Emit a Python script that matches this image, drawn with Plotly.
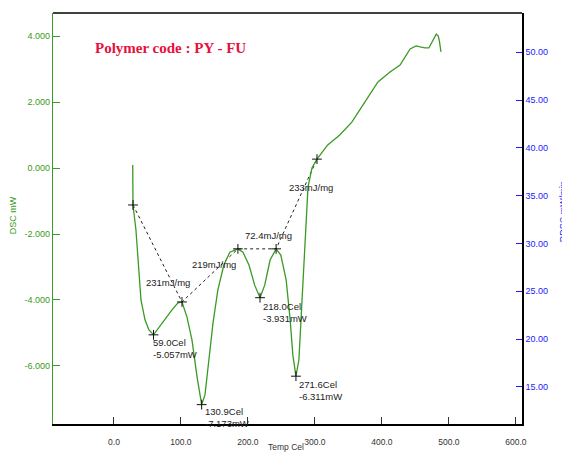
import plotly.graph_objects as go

# DSC curve: temperature (Cel) and heat flow (mW)
temp = [28.0, 28.2, 28.4, 32.8, 35.8, 40.3, 46.3, 52.0, 59.0, 71.6, 86.6, 95.5, 101.5,
        109.0, 116.4, 124.0, 130.9, 135.8, 141.8, 147.8, 155.0, 164.0, 173.0, 185.0,
        192.5, 201.5, 210.0, 218.0, 225.0, 233.0, 242.0, 249.0, 257.0, 263.0, 267.0,
        271.6, 276.0, 280.6, 285.0, 289.6, 295.5, 303.0, 319.0, 337.0, 355.0, 368.0,
        382.0, 394.0, 412.0, 427.0, 442.0, 451.0, 457.0, 464.0, 470.0, 475.0, 481.0,
        484.0, 485.5, 488.0]
dsc = [0.09, -0.90, -1.12, -1.88, -2.70, -4.00, -4.60, -4.90, -5.057, -4.70, -4.30, -4.09, -4.06,
       -4.52, -5.21, -6.33, -7.173, -6.88, -5.82, -4.70, -3.70, -2.94, -2.55, -2.45,
       -2.55, -2.94, -3.55, -3.931, -3.55, -2.79, -2.45, -2.64, -3.39, -4.61, -5.67,
       -6.311, -5.82, -4.00, -2.18, -0.58, 0.00, 0.27, 0.70, 1.00, 1.39, 1.80,
       2.27, 2.61, 2.91, 3.12, 3.61, 3.70, 3.67, 3.64, 3.64, 3.82, 4.06,
       4.00, 3.88, 3.52]

# Integration baselines (endpoints) and enthalpy labels
base_t = [28.4, 101.5, 185.0, 242.0, 303.0]
base_y = [-1.12, -4.06, -2.45, -2.45, 0.27]
enth_labels = ["231mJ/mg", "219mJ/mg", "72.4mJ/mg", "233mJ/mg"]
enth_t = [80.6, 149.0, 230.0, 294.0]
enth_y = [-3.48, -2.91, -2.06, -0.58]

# Peak minima
peak_t = [59.0, 130.9, 218.0, 271.6]
peak_y = [-5.057, -7.173, -3.931, -6.311]
peak_lab_t = [55.0, 133.0, 219.5, 273.0]
peak_lab_y = [-5.06, -7.15, -3.97, -6.33]

x_ticks = [0, 100, 200, 300, 400, 500, 600]
x_tick_text = ["0.0", "100.0", "200.0", "300.0", "400.0", "500.0", "600.0"]
y_ticks = [-6, -4, -2, 0, 2, 4]
y_tick_text = ["-6.000", "-4.000", "-2.000", "0.000", "2.000", "4.000"]
y2_ticks = [15, 20, 25, 30, 35, 40, 45, 50]
y2_tick_text = ["15.00", "20.00", "25.00", "30.00", "35.00", "40.00", "45.00", "50.00"]

GREEN = "#3a9a22"
BLUE = "#1a1aff"
FONT = "Liberation Sans"

fig = go.Figure()

fig.add_trace(go.Scatter(x=base_t, y=base_y, mode="lines",
                         line=dict(color="#222222", width=1, dash="dot"),
                         showlegend=False, hoverinfo="skip"))
fig.add_trace(go.Scatter(x=temp, y=dsc, mode="lines",
                         line=dict(color=GREEN, width=1.3),
                         showlegend=False))
fig.add_trace(go.Scatter(x=base_t + peak_t, y=base_y + peak_y, mode="markers",
                         marker=dict(symbol="cross-thin", size=7,
                                     line=dict(color="#111111", width=1)),
                         showlegend=False, hoverinfo="skip"))
fig.add_trace(go.Scatter(x=[None], y=[None], yaxis="y2", showlegend=False))

for lab, t, y in zip(enth_labels, enth_t, enth_y):
    fig.add_annotation(x=t, y=y, text=lab, showarrow=False, xref="x", yref="y",
                       font=dict(family=FONT, size=9.5, color="#222222"))

for t, y, lt, ly in zip(peak_t, peak_y, peak_lab_t, peak_lab_y):
    fig.add_annotation(x=lt, y=ly, text=f"{t:.1f}Cel<br>{y:.3f}mW", showarrow=False,
                       xref="x", yref="y", xanchor="left", yanchor="top", align="left",
                       font=dict(family=FONT, size=9.5, color="#222222"))

fig.add_annotation(x=0.085, y=0.915, xref="paper", yref="paper",
                   text="<b>Polymer code : PY - FU</b>", showarrow=False,
                   xanchor="left", yanchor="middle",
                   font=dict(family="Liberation Serif", size=15, color="#e8103c"))

# axis titles
fig.add_annotation(x=-0.085, y=0.508, xref="paper", yref="paper", text="DSC mW",
                   showarrow=False, textangle=-90, xanchor="center", yanchor="middle",
                   font=dict(family=FONT, size=9, color=GREEN))
fig.add_annotation(x=1.088, y=0.516, xref="paper", yref="paper", text="DDSC mW/min",
                   showarrow=False, textangle=-90, xanchor="center", yanchor="middle",
                   font=dict(family=FONT, size=9, color=BLUE))
fig.add_annotation(x=0.497, y=-0.057, xref="paper", yref="paper", text="Temp Cel",
                   showarrow=False, xanchor="center", yanchor="middle",
                   font=dict(family=FONT, size=8.5, color="#333333"))

# the page body adds an 8px offset, so the figure is 8px smaller than the window
fig.update_layout(
    width=562, height=444,
    margin=dict(l=45, r=48, t=5, b=28),
    plot_bgcolor="white", paper_bgcolor="white",
    font=dict(family=FONT, size=9),
    xaxis=dict(range=[-91, 609], tickvals=x_ticks, ticktext=x_tick_text,
               ticks="inside", ticklen=7, tickcolor="#333333", automargin=False,
               showgrid=False, zeroline=False, showline=True, linecolor="black",
               linewidth=1.5, mirror=False, ticklabelstandoff=9,
               tickfont=dict(family=FONT, size=8.5, color="#333333")),
    yaxis=dict(range=[-7.76, 4.7], tickvals=y_ticks, ticktext=y_tick_text,
               ticks="inside", ticklen=7, tickcolor=GREEN, automargin=False,
               showgrid=False, zeroline=False, showline=True, linecolor=GREEN,
               linewidth=1.2,
               tickfont=dict(family=FONT, size=9, color=GREEN)),
    yaxis2=dict(range=[11.13, 54.1], tickvals=y2_ticks, ticktext=y2_tick_text,
                overlaying="y", side="right", anchor="x", automargin=False,
                ticks="inside", ticklen=6, tickcolor=BLUE,
                showgrid=False, zeroline=False, showline=True, linecolor="black",
                linewidth=1.5,
                tickfont=dict(family=FONT, size=9, color=BLUE)),
    shapes=[dict(type="line", xref="paper", yref="paper", x0=0, x1=1, y0=1, y1=1,
                 line=dict(color="black", width=1.5))],
)

fig.write_html("out.html")
